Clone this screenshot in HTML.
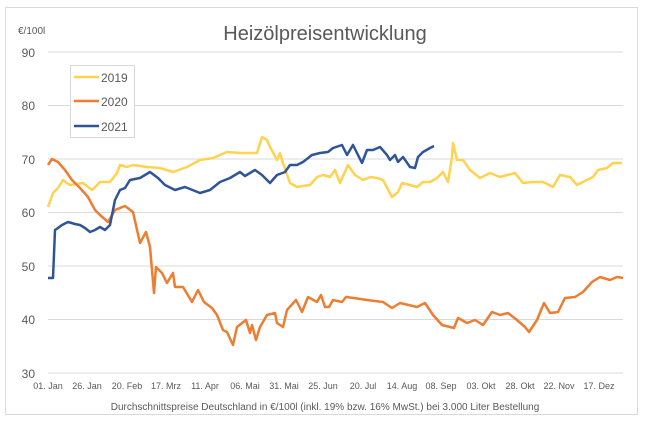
<!DOCTYPE html><html><head><meta charset="utf-8"><style>body{margin:0;background:#fff}svg{display:block}text{font-family:"Liberation Sans",sans-serif;fill:#595959}</style></head><body>
<svg width="650" height="427" viewBox="0 0 650 427">
<rect x="5.5" y="7.5" width="632" height="407" fill="#fff" stroke="#d9d9d9"/>
<text x="325" y="40" font-size="20" text-anchor="middle">Heizölpreisentwicklung</text>
<text x="18" y="34" font-size="10">€/100l</text>
<g stroke="#d9d9d9" stroke-width="1">
<line x1="48" y1="52" x2="623" y2="52"/><line x1="48" y1="105.5" x2="623" y2="105.5"/><line x1="48" y1="159" x2="623" y2="159"/><line x1="48" y1="212.5" x2="623" y2="212.5"/><line x1="48" y1="266" x2="623" y2="266"/><line x1="48" y1="319.5" x2="623" y2="319.5"/><line x1="48" y1="373" x2="623" y2="373"/>
</g>
<g font-size="12" text-anchor="end"><text x="35" y="57">90</text><text x="35" y="110">80</text><text x="35" y="164">70</text><text x="35" y="217">60</text><text x="35" y="271">50</text><text x="35" y="324">40</text><text x="35" y="378">30</text></g>
<g font-size="9" text-anchor="middle">
<text x="48" y="389">01. Jan</text><text x="87" y="389">26. Jan</text><text x="127" y="389">20. Feb</text><text x="166" y="389">17. Mrz</text><text x="205" y="389">11. Apr</text><text x="245" y="389">06. Mai</text><text x="284" y="389">31. Mai</text><text x="323" y="389">25. Jun</text><text x="363" y="389">20. Jul</text><text x="402" y="389">14. Aug</text><text x="441" y="389">08. Sep</text><text x="481" y="389">03. Okt</text><text x="520" y="389">28. Okt</text><text x="559" y="389">22. Nov</text><text x="599" y="389">17. Dez</text>
</g>
<text x="325" y="410" font-size="10" text-anchor="middle">Durchschnittspreise Deutschland in €/100l (inkl. 19% bzw. 16%  MwSt.) bei 3.000 Liter Bestellung</text>
<g fill="none" stroke-width="2.5" stroke-linejoin="round">
<polyline stroke="#FFD34F" points="48,207 53,193 58,188 63,180 67,183 70,185 83,183 92,190 100,182 110,182 117,173 120,165 127,167 133,165 147,167 160,168 173,172 187,167 200,160 213,158 227,152 240,153 250,153 257,153 262,137 267,140 270,147 277,160 280,153 283,163 290,183 297,187 310,185 317,177 323,175 330,177 335,170 340,183 348,165 355,175 363,180 370,177 377,178 383,180 392,197 398,192 402,183 410,185 417,187 423,182 430,182 437,178 443,172 448,182 452,157 453,143 457,160 463,160 470,170 480,178 490,173 500,177 515,173 523,183 533,182 543,182 553,187 560,175 570,177 577,185 587,180 593,177 598,170 607,168 613,163 622,163"/>
<polyline stroke="#ED7D31" points="48,165 52,159 58,162 65,170 72,180 80,188 88,197 95,210 100,215 108,222 115,210 125,206 133,212 140,243 146,232 150,247 154,293 156,267 162,273 167,283 173,273 175,287 183,287 192,302 198,290 204,302 212,308 217,315 223,330 227,332 233,345 237,327 246,320 250,333 252,325 256,340 260,327 267,315 275,313 277,323 283,327 287,310 296,300 302,312 308,297 317,302 321,295 325,307 329,307 333,300 342,302 346,297 354,298 367,300 383,302 392,308 400,303 417,307 425,303 433,315 442,325 454,328 458,318 467,323 475,320 483,325 492,312 500,315 508,313 517,320 525,327 529,332 537,320 544,303 550,313 558,312 565,298 575,297 583,292 592,282 600,277 610,280 617,277 623,278"/>
<polyline stroke="#2F5597" points="48,278 53,278 55,230 58,228 62,225 68,222 75,224 80,225 85,228 90,232 95,230 100,227 105,230 110,225 115,200 120,190 125,188 130,180 140,178 150,172 158,178 165,185 175,190 185,187 200,193 210,190 220,182 230,178 240,172 245,176 255,170 262,175 270,183 277,175 285,172 290,165 297,165 303,162 312,155 320,153 328,152 333,148 342,145 347,155 353,145 357,153 362,163 367,150 373,150 380,147 387,155 390,160 395,155 398,162 403,157 410,167 415,168 418,157 423,152 430,148 434,146"/>
</g>
<rect x="70.5" y="65.5" width="64" height="72" fill="#fff" stroke="#d9d9d9"/>
<g stroke-width="2.5"><line x1="74" y1="77" x2="99" y2="77" stroke="#FFD34F"/><line x1="74" y1="101" x2="99" y2="101" stroke="#ED7D31"/><line x1="74" y1="126" x2="99" y2="126" stroke="#2F5597"/></g>
<g font-size="12"><text x="101" y="82">2019</text><text x="101" y="106">2020</text><text x="101" y="131">2021</text></g>
</svg></body></html>
